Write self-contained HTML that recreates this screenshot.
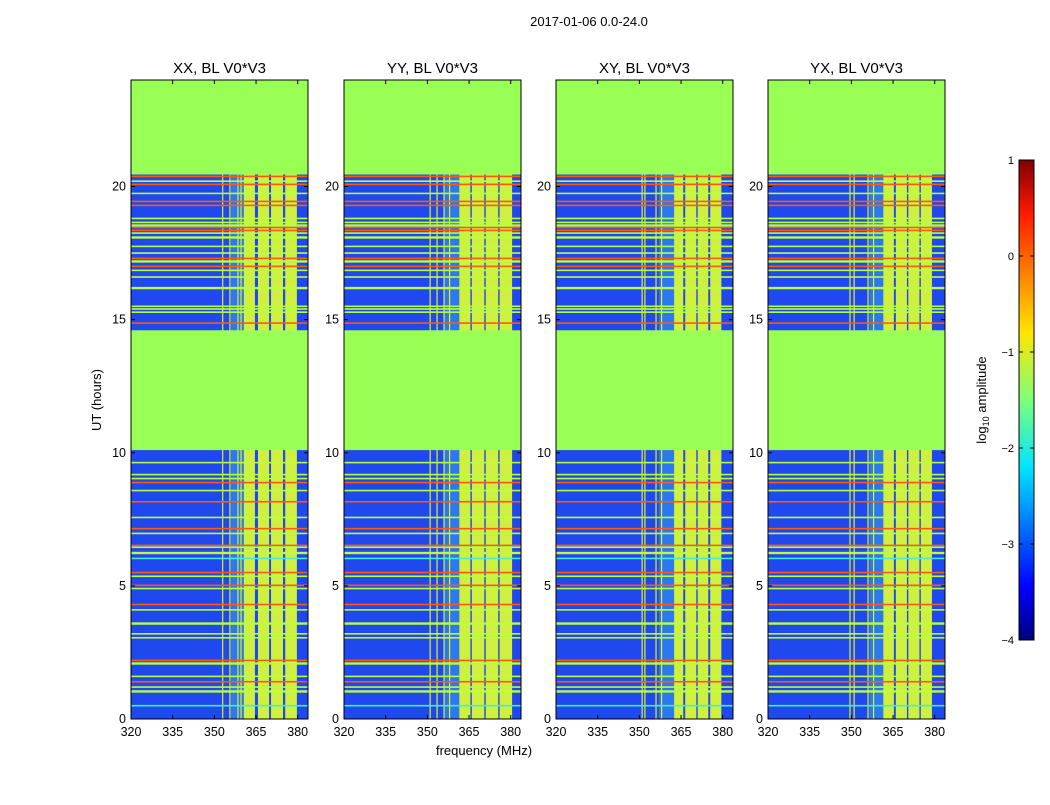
<!DOCTYPE html>
<html><head><meta charset="utf-8"><style>
body{margin:0;background:#fff;font-family:"Liberation Sans",sans-serif}
svg text{font-family:"Liberation Sans","DejaVu Sans",sans-serif}
</style></head><body>
<svg id="fig" width="1050" height="800" xmlns="http://www.w3.org/2000/svg">
<rect width="1050" height="800" fill="#fff"/>
<text x="589" y="26" font-size="13" text-anchor="middle">2017-01-06 0.0-24.0</text>
<text x="484" y="755" font-size="13" text-anchor="middle">frequency (MHz)</text>
<text x="101" y="400" font-size="13" text-anchor="middle" transform="rotate(-90 101 400)">UT (hours)</text>
<defs><linearGradient id="jet" x1="0" y1="1" x2="0" y2="0">
<stop offset="0" stop-color="#00007f"/><stop offset="0.11" stop-color="#0000ff"/><stop offset="0.36" stop-color="#00e5ff"/><stop offset="0.5" stop-color="#7dff7a"/><stop offset="0.64" stop-color="#ffe600"/><stop offset="0.89" stop-color="#ff1800"/><stop offset="1" stop-color="#7f0000"/></linearGradient></defs>
<rect x="1019" y="160" width="15" height="480" fill="url(#jet)" stroke="#000"/>
<g id="cbticks"></g>
<text x="986" y="400" font-size="13" text-anchor="middle" transform="rotate(-90 986 400)">log<tspan font-size="9" dy="3">10</tspan><tspan dy="-3"> amplitude</tspan></text>
<g id="panels"></g>
</svg>
<script>
const panelTitles=["XX, BL V0*V3","YY, BL V0*V3","XY, BL V0*V3","YX, BL V0*V3"];
const panelLefts=[131,344,556,768];
const xTicks=[320,335,350,365,380];
const yTicks=[0,5,10,15,20];
const cbTicks=[1,0,-1,-2,-3,-4];
// flagged (green) time ranges in hours
const flagStart=[20.45,10.1];
const flagEnd=[24,14.6];
// horizontal RFI lines: hour, colour class
const lineHours=[20.38,20.2,20.08,19.74,19.44,19.29,18.8,18.65,18.55,18.46,18.35,18.25,18.1,17.75,17.5,17.3,17.2,17.0,16.85,16.6,16.2,15.5,15.4,15.28,14.87,
9.63,9.18,9.03,8.88,8.58,8.16,7.57,7.15,6.97,6.52,6.45,6.25,6.03,5.5,5.36,5.02,4.9,4.3,4.1,3.6,3.2,3.05,2.2,2.1,1.6,1.4,1.2,1.05,0.5];
const lineKinds=["r","y","r","y","r","r","y","y","y","r","r","y","y","y","y","r","y","r","y","y","y","y","y","y","r",
"y","y","y","r","y","r","y","r","y","r","y","y","c","r","y","r","y","r","y","y","y","y","r","y","y","r","y","y","c"];
// spectral bands (MHz): start, end, colour class — per panel
const bandStart=[[356,360.6,365.7,370.4,375.5],[356,361.5,366,371,376],[357,362.5,366.5,371,375.5],[356.5,361.5,366,370.5,375]];
const bandEnd=[[360.6,364.6,369.7,374.7,379.7],[361.5,365.5,370.5,375.5,380.5],[362.5,365.8,370.5,374.8,379.5],[361.5,365.3,370,374.5,379]];
const bandKind=[["c","b","b","b","b"],["c","b","b","b","b"],["c","b","b","b","b"],["c","b","b","b","b"]];
// vertical RFI channels (MHz)
const vLines=[[353,355.6,358.5,359.6],[351,353.5,356,358],[351,352,356,358],[349.5,351,356,358]];
const col={r:"#ff5a10",y:"#b8ff40",c:"#40f0d0",b:"#d0f040",g:"#99ff55",bg:"#1f48ee"};
const T=80,B=719,W=177,h0=0,h1=24,f0=320,f1=383.7;
const yS=h=>B-(h-h0)/(h1-h0)*(B-T);
const NS="http://www.w3.org/2000/svg";
function mk(tag,attrs,parent){const e=document.createElementNS(NS,tag);for(const k in attrs)e.setAttribute(k,attrs[k]);parent.appendChild(e);return e;}
const P=document.getElementById('panels');
panelLefts.forEach((L,p)=>{
 const xS=f=>L+(f-f0)/(f1-f0)*W;
 const g=mk('g',{},P);
 
 
 const bg=mk('rect',{x:L,y:T,width:W,height:B-T,fill:col.bg},g);
 
 
 bandStart[p].forEach((s,i)=>{
  const r=mk('rect',{x:xS(s),y:T,width:xS(bandEnd[p][i])-xS(s),height:B-T,fill:bandKind[p][i]==='c'?"#2c78f0":col.b},g);
  
  
 });
 vLines[p].forEach(f=>{
  const r=mk('rect',{x:xS(f)-0.6,y:T,width:1.2,height:B-T,fill:"#e0f020"},g);
  
  
 });
 lineHours.forEach((h,i)=>{
  const k=lineKinds[i];
  const r=mk('rect',{x:L,y:yS(h)-0.8,width:W,height:(k==='y'&&i%4===0)?2.4:1.6,fill:col[k]},g);
  
  
 });
 flagStart.forEach((s,i)=>{
  const r=mk('rect',{x:L,y:yS(flagEnd[i]),width:W,height:yS(s)-yS(flagEnd[i]),fill:col.g},g);
  
  
 });
 const fr=mk('rect',{x:L,y:T,width:W,height:B-T,fill:"none",stroke:"#000","stroke-width":1},g);
 
 
 const t=mk('text',{x:L+W/2,y:73,"font-size":15,"text-anchor":"middle"},g);t.textContent=panelTitles[p];
 
 
 xTicks.forEach(v=>{
  const x=xS(v);
  mk('line',{x1:x,x2:x,y1:B,y2:B-4,stroke:"#000"},g);mk('line',{x1:x,x2:x,y1:T,y2:T+4,stroke:"#000"},g);
  const tx=mk('text',{x:x,y:B+17,"font-size":12.5,"text-anchor":"middle"},g);tx.textContent=v;
  
  
 });
 yTicks.forEach(v=>{
  const y=yS(v);
  mk('line',{x1:L,x2:L+4,y1:y,y2:y,stroke:"#000"},g);mk('line',{x1:L+W,x2:L+W-4,y1:y,y2:y,stroke:"#000"},g);
  const ty=mk('text',{x:L-5,y:y+4,"font-size":12.5,"text-anchor":"end"},g);ty.textContent=v;
  
  
 });
});
const cb=document.getElementById('cbticks');
cbTicks.forEach(v=>{
 const y=160+(1-v)/5*480;
 mk('line',{x1:1019,x2:1023,y1:y,y2:y,stroke:"#000"},cb);mk('line',{x1:1034,x2:1030,y1:y,y2:y,stroke:"#000"},cb);
 const t=mk('text',{x:1014,y:y+4,"font-size":11,"text-anchor":"end"},cb);t.textContent=v<0?"\u2212"+(-v):v;
 
 
});
</script>
</body></html>
